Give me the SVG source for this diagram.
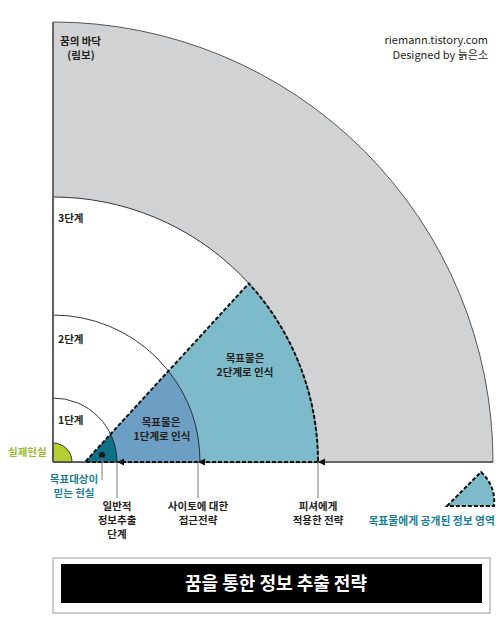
<svg xmlns="http://www.w3.org/2000/svg" width="500" height="618" viewBox="0 0 500 618">
<defs>
<style>
.t{font-family:"Noto Sans CJK KR","Noto Sans",sans-serif;font-size:10.5px;font-weight:700;fill:#231f20}
.r{font-family:"Noto Sans CJK KR","Noto Sans",sans-serif;font-size:11px;font-weight:400;fill:#231f20}
.c{text-anchor:middle}
.arc{fill:none;stroke:#231f20;stroke-width:0.9}
.dash{fill:none;stroke:#111;stroke-width:2;stroke-dasharray:4 2}
.ar{stroke:#777;stroke-width:1}
</style>
<marker id="ah" viewBox="0 0 10 10" refX="5" refY="0" markerWidth="8" markerHeight="7" markerUnits="userSpaceOnUse" orient="auto-start-reverse">
<path d="M0,10 L5,0 L10,10 Z" fill="#111"/>
</marker>
</defs>
<rect width="500" height="618" fill="#fff"/>
<g id="limbo">
<path d="M53,462 L53,22 A440,440 0 0 1 493,462 Z" fill="#d1d2d4" stroke="#555" stroke-width="1"/>
<text class="t" x="60" y="45">꿈의 바닥</text>
<text class="t c" x="81" y="59">(림보)</text>
</g>
<g id="stage3">
<path d="M53,462 L53,197 A265,265 0 0 1 318,462 Z" fill="#fff" stroke="#231f20" stroke-width="0.9"/>
<text class="t" x="58" y="222">3단계</text>
</g>
<g id="stage2">
<path class="arc" d="M53,315 A147,147 0 0 1 200,462"/>
<text class="t" x="58" y="343">2단계</text>
</g>
<g id="stage1">
<path class="arc" d="M53,398 A64,64 0 0 1 117,462"/>
<text class="t" x="58" y="424">1단계</text>
</g>
<g id="target2">
<path d="M85,462 L248.8,283.4 A265,265 0 0 1 318,462 Z" fill="#7dbbcb"/>
<text class="t c" x="245" y="362">목표물은</text>
<text class="t c" x="245" y="376">2단계로 인식</text>
</g>
<g id="target1">
<path d="M110.6,434.1 L168.45,371 A147,147 0 0 1 200,462 L117,462 A64,64 0 0 0 110.6,434.1 Z" fill="#6d9fc5"/>
<path class="arc" d="M168.45,371 A147,147 0 0 1 200,462"/>
<text class="t c" x="161" y="426">목표물은</text>
<text class="t c" x="162" y="440">1단계로 인식</text>
</g>
<g id="belief">
<path d="M85,462 L110.6,434.1 A64,64 0 0 1 117,462 Z" fill="#0f7187"/>
<path class="arc" d="M110.6,434.1 A64,64 0 0 1 117,462"/>
<circle cx="102" cy="455" r="3" fill="#111"/>
<text class="t c" x="74" y="483" style="fill:#1b7f98">목표대상이</text>
<text class="t c" x="74" y="497" style="fill:#1b7f98">믿는 현실</text>
</g>
<g id="exposed">
<path class="dash" d="M318,462 L85,462 L248.8,283.4 A265,265 0 0 1 318,462"/>
</g>
<g id="reality">
<path d="M53,462 L53,443 A19,19 0 0 1 72,462 Z" fill="#b5cf2f" stroke="#231f20" stroke-width="0.9"/>
<text class="t" x="8" y="456" style="fill:#9cba2a">실제현실</text>
</g>
<g id="axes">
<line x1="53" y1="22" x2="53" y2="462" stroke="#555" stroke-width="1.5"/>
<line x1="318" y1="462" x2="493" y2="462" stroke="#555" stroke-width="1.5"/>
<line x1="53" y1="462" x2="85" y2="462" stroke="#555" stroke-width="1.5"/>
</g>
<g id="connectors">
<line class="ar" x1="102" y1="457" x2="102" y2="480"/>
<line class="ar" x1="117" y1="498" x2="117" y2="462" marker-end="url(#ah)"/>
<line class="ar" x1="198" y1="498" x2="198" y2="462" marker-end="url(#ah)"/>
<line class="ar" x1="318" y1="498" x2="318" y2="462" marker-end="url(#ah)"/>
</g>
<g id="label-general">
<text class="t c" x="117" y="510">일반적</text>
<text class="t c" x="117" y="524">정보추출</text>
<text class="t c" x="117" y="538">단계</text>
</g>
<g id="label-saito">
<text class="t c" x="198" y="510">사이토에 대한</text>
<text class="t c" x="198" y="524">접근전략</text>
</g>
<g id="label-fischer">
<text class="t c" x="318" y="510">피셔에게</text>
<text class="t c" x="318" y="524">적용한 전략</text>
</g>
<g id="legend">
<path d="M447,506 L481,472 Q496,486 494,506 Z" fill="#7dbbcb" stroke="#111" stroke-width="2" stroke-dasharray="4 2"/>
<text class="t" x="495" y="525" text-anchor="end" style="fill:#1b7f98;font-size:10.8px">목표물에게 공개된 정보 영역</text>
</g>
<g id="credit">
<text class="r" x="488" y="44" text-anchor="end">riemann.tistory.com</text>
<text class="r" x="488" y="58.5" text-anchor="end">Designed by 늙은소</text>
</g>
<g id="title">
<rect x="53" y="558" width="437" height="55" fill="#fff" stroke="#bbb" stroke-width="1.5"/>
<rect x="61" y="564" width="421" height="39" fill="#000"/>
<text x="276" y="590" text-anchor="middle" style="font-family:'Noto Sans CJK KR',sans-serif;font-size:18px;font-weight:700;fill:#fff">꿈을 통한 정보 추출 전략</text>
</g>
</svg>
